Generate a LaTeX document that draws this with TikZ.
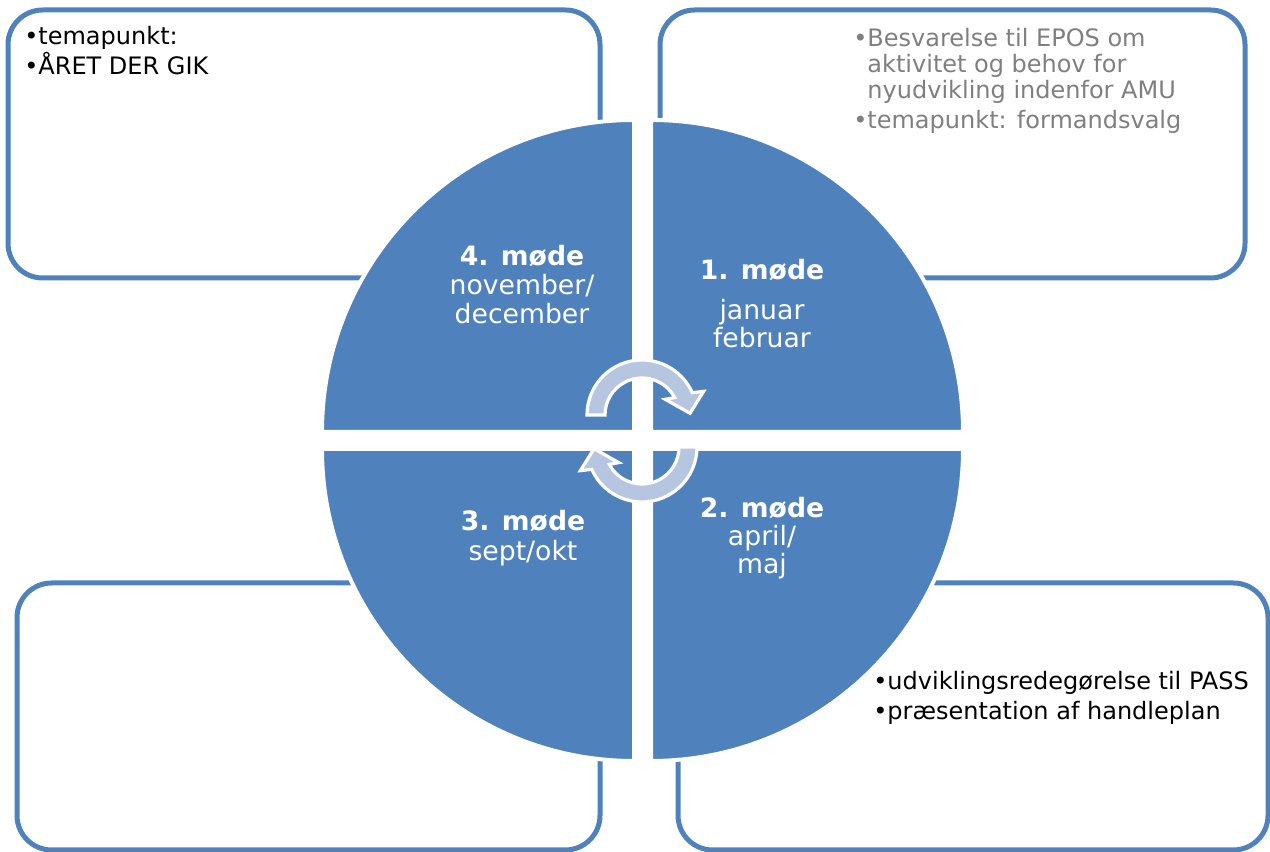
\documentclass[tikz,border=0pt]{standalone}
\usepackage{fontspec}
\setmainfont{DejaVu Sans}
\usetikzlibrary{positioning}

\definecolor{ringblue}{HTML}{4F81BD}
\definecolor{arrowblue}{HTML}{B7C6E0}
\definecolor{notegray}{HTML}{7F7F7F}

\begin{document}
\begin{tikzpicture}[x = 0.75pt, y = 0.75pt,
  notebox/.style = {draw = ringblue, line width = 3.75pt, rounded corners = 26pt},
  quarter/.style = {fill = ringblue, draw = white, line width = 3pt},
  turnarrow/.style = {fill = arrowblue, draw = white, line width = 2.4pt},
  notetext/.style = {font = \fontsize{18}{22.5}\selectfont, align = left, inner sep = 0pt, anchor = base west},
  monthtext/.style = {font = \fontsize{20}{22}\selectfont, text = white, align = center, inner sep = 0pt, anchor = base}]
\useasboundingbox (0, 0) rectangle (1270, 852);

\draw[notebox] (8, 842) rectangle (600, 574);
\draw[notebox] (660, 842) rectangle (1245, 574);
\draw[notebox] (17, 269) rectangle (600, 2);
\draw[notebox] (678, 269) rectangle (1268, 2);

\filldraw[quarter] (651, 420) -- ++(312, 0) arc[start angle = 0, end angle = 90, radius = 312] -- cycle;
\filldraw[quarter] (634, 420) -- ++(0, 312) arc[start angle = 90, end angle = 180, radius = 312] -- cycle;
\filldraw[quarter] (634, 403) -- ++(-312, 0) arc[start angle = 180, end angle = 270, radius = 312] -- cycle;
\filldraw[quarter] (651, 403) -- ++(0, -312) arc[start angle = 270, end angle = 360, radius = 312] -- cycle;

\foreach \turn in {0, 180}
  \filldraw[turnarrow, rotate around = {\turn:(642, 421)}, shift = {(642, 437)}]
    (180:37) -- (180:55) arc[start angle = 180, end angle = 24, radius = 55]
    -- (21:66) -- (2:48) -- (34:28) -- (28:37)
    arc[start angle = 28, end angle = 180, radius = 37] -- cycle;

\node[notetext] (theme4) at (24, 777) {•temapunkt:\\•ÅRET DER GIK};
\node[notetext, text = notegray, font = \fontsize{18}{19.5}\selectfont] (theme1) at (853, 723)
  {•Besvarelse til EPOS om\\\phantom{•}aktivitet og behov for\\\phantom{•}nyudvikling indenfor AMU\\[3pt]•temapunkt: formandsvalg};
\node[notetext, font = \fontsize{18}{23}\selectfont] (theme2) at (873, 132)
  {•udviklingsredegørelse til PASS\\•præsentation af handleplan};

\node[monthtext] (meet4) at (522, 528) {\textbf{4. møde}\\november/\\december};
\node[monthtext, font = \fontsize{20}{21}\selectfont] (meet1) at (762, 504) {\textbf{1. møde}\\[9pt]januar\\februar};
\node[monthtext, font = \fontsize{20}{21}\selectfont] (meet2) at (762, 278) {\textbf{2. møde}\\april/\\maj};
\node[monthtext, font = \fontsize{20}{23}\selectfont] (meet3) at (523, 291) {\textbf{3. møde}\\sept/okt};
\end{tikzpicture}
\end{document}
